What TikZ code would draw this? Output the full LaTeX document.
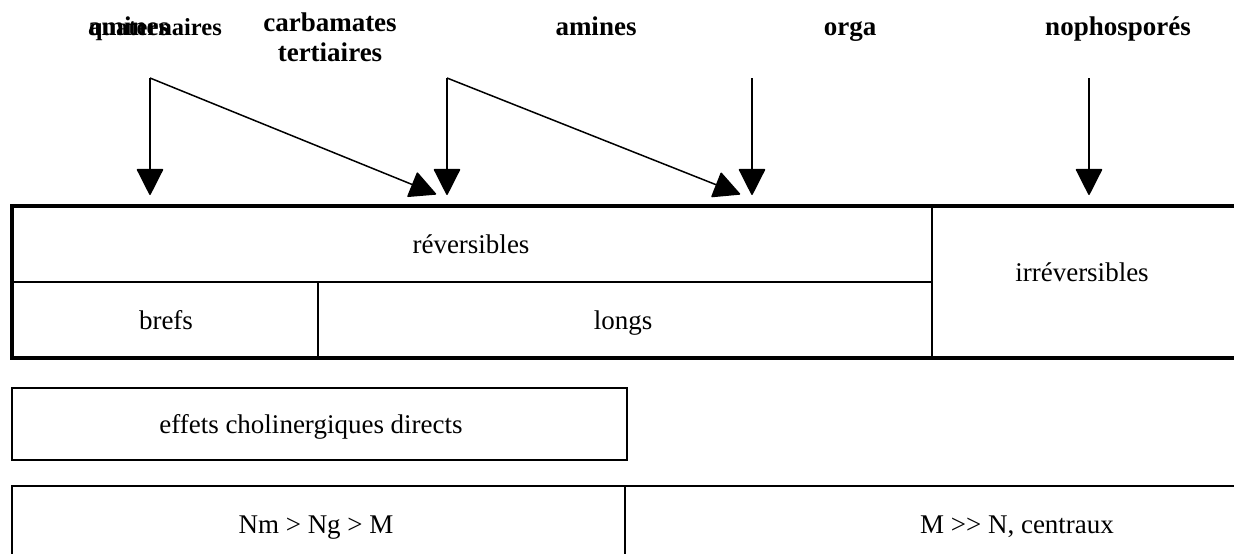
\documentclass[tikz,border=0pt]{standalone}
\usepackage{fontspec}
\setmainfont{Liberation Serif}
\usetikzlibrary{arrows.meta}
\begin{document}
\begin{tikzpicture}[x=1pt,y=-1pt,
  lbl/.style={font=\fontsize{27}{30}\selectfont\bfseries, inner sep=0pt, align=center},
  txt/.style={font=\fontsize{27}{30}\selectfont, inner sep=0pt, anchor=base},
  frame/.style={line width=2.6pt},
  thickframe/.style={line width=3.2pt},
  arr/.style={line width=1.5pt, -{Triangle[width=27pt,length=27pt,round,line width=1.5pt]}, shorten >=2pt}
]
\useasboundingbox (0,0) rectangle (1234,554);

% top labels
\node[lbl, anchor=base west] (am) at (88,35) {amines};
\node[inner sep=0pt, anchor=base east] (qu) at (222,35) {\fontsize{24.5}{30}\selectfont\textbf{quaternaires}};
\node[lbl, anchor=north] (carb) at (330,13) {carbamates\\tertiaires};
\node[lbl, anchor=base] (amin) at (596,35) {amines};
\node[lbl, anchor=base] (orga) at (850,35) {orga};
\node[lbl, anchor=base] (noph) at (1118,35) {nophosporés};

% arrow origins
\coordinate (s1) at (150,78);
\coordinate (s2) at (447,78);
\coordinate (s3) at (752,78);
\coordinate (s4) at (1089,78);
% arrow targets
\coordinate (t1) at (150,197);
\coordinate (t2) at (438,195);
\coordinate (t3) at (447,197);
\coordinate (t4) at (742,195);
\coordinate (t5) at (752,197);
\coordinate (t6) at (1089,197);

\draw[arr] (s1) -- (t1);
\draw[arr] (s1) -- (t2);
\draw[arr] (s2) -- (t3);
\draw[arr] (s2) -- (t4);
\draw[arr] (s3) -- (t5);
\draw[arr] (s4) -- (t6);

% first table
\draw[thickframe] (1236,206) -- (12,206) -- (12,358) -- (1236,358);
\draw[frame] (12,282) -- (932,282);
\draw[frame] (932,206) -- (932,358);
\draw[frame] (318,282) -- (318,358);
\node[txt] (rev) at (471,253) {réversibles};
\node[txt] (irr) at (1082,281) {irréversibles};
\node[txt] (bref) at (166,329) {brefs};
\node[txt] (long) at (623,329) {longs};

% effets box
\draw[frame] (12,388) rectangle (627,460);
\node[txt] (eff) at (311,433) {effets cholinergiques directs};

% bottom table
\draw[frame] (1236,486) -- (12,486) -- (12,556);
\draw[frame] (625,486) -- (625,556);
\node[txt] (nm) at (316,533) {Nm > Ng > M};
\node[txt] (mn) at (1017,533) {M >{}> N, centraux};
\end{tikzpicture}
\end{document}
